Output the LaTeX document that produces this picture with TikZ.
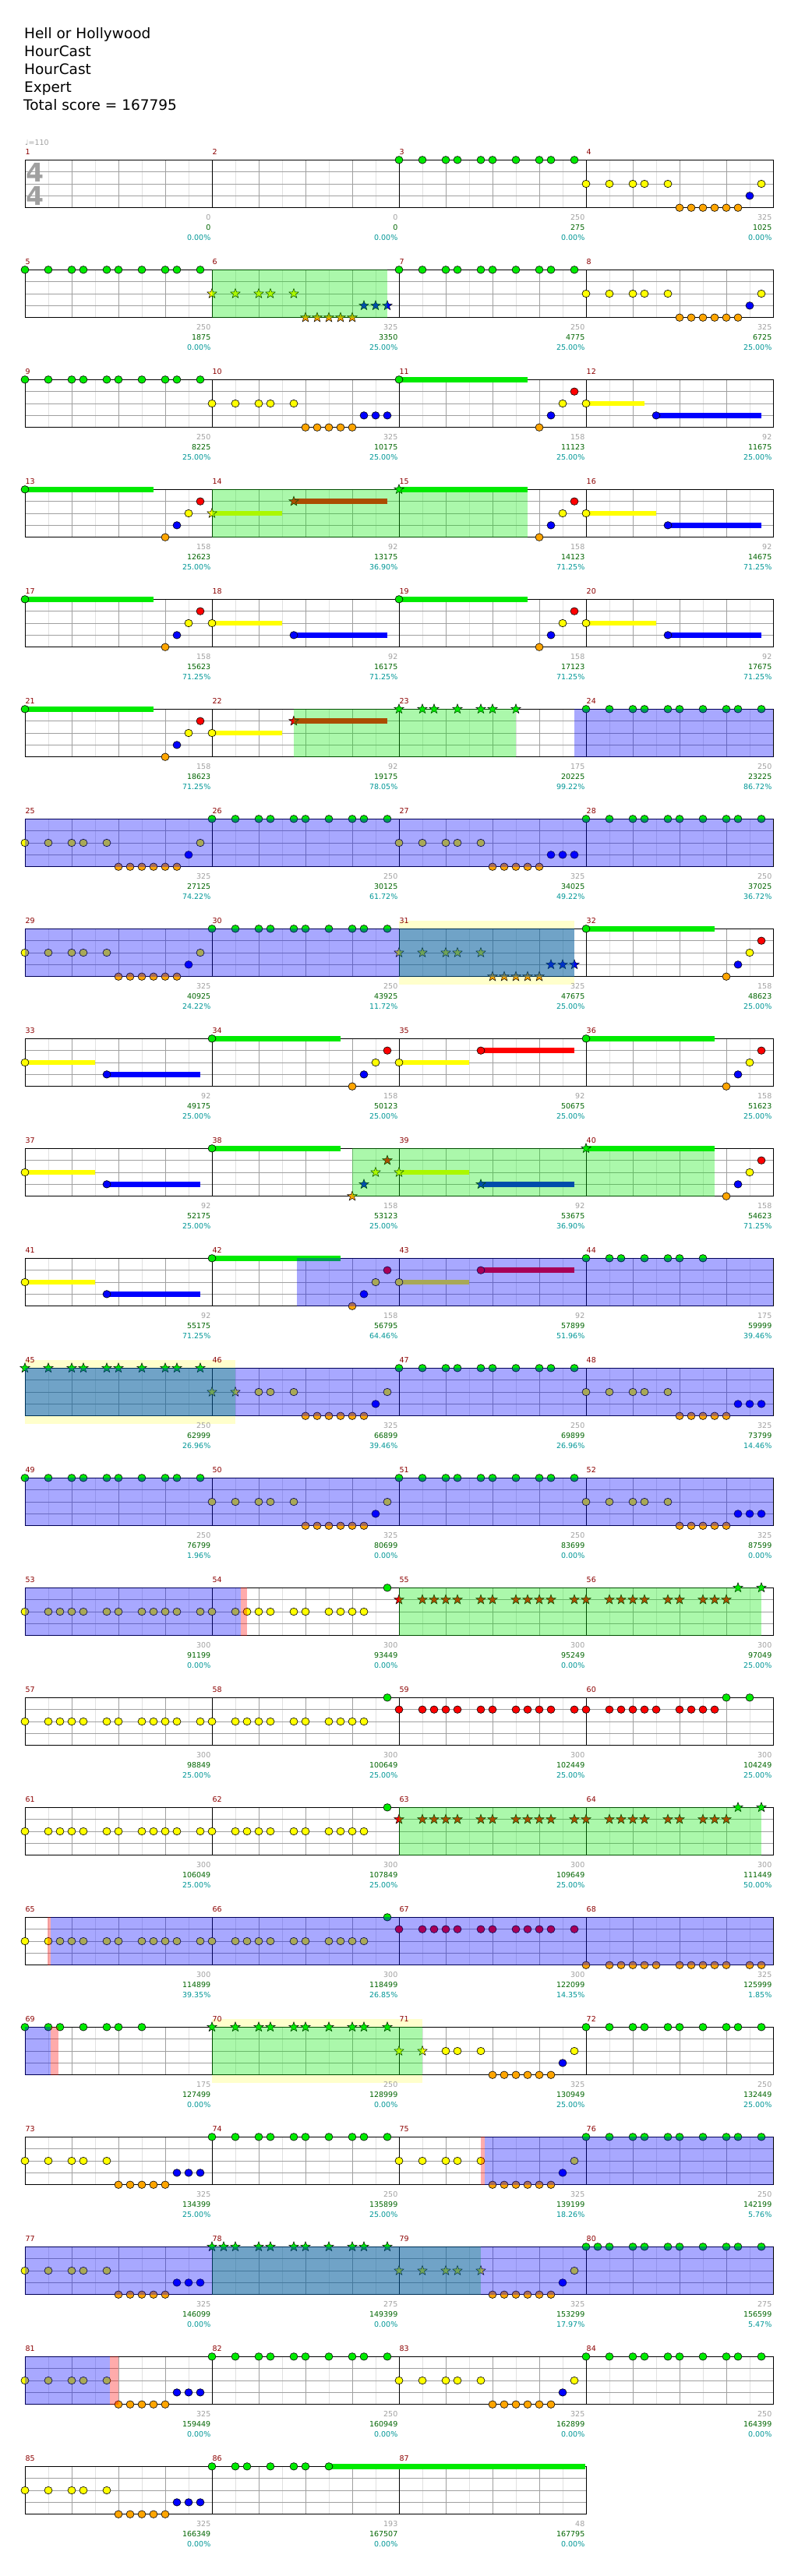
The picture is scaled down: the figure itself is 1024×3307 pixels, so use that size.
\documentclass[tikz,border=0pt]{standalone}
\usepackage{fontspec}
\setmainfont{DejaVu Sans}
\usepackage{tikz}
\usetikzlibrary{shapes.geometric}

\definecolor{lane0}{RGB}{0,235,0}
\definecolor{lane1}{RGB}{255,0,0}
\definecolor{lane2}{RGB}{255,255,0}
\definecolor{lane3}{RGB}{0,0,255}
\definecolor{lane4}{RGB}{255,165,0}
\definecolor{barnum}{RGB}{139,0,0}
\definecolor{gridlt}{RGB}{225,225,225}
\definecolor{griddk}{RGB}{160,160,160}
\definecolor{scoregreen}{RGB}{0,100,0}
\definecolor{pctteal}{RGB}{0,150,150}
\definecolor{bandyellow}{RGB}{255,255,204}

\tikzset{
  nt/.style={ellipse, draw=black, line width=0.6pt, inner sep=0pt, minimum width=10pt, minimum height=9.5pt},
  st/.style={star, star points=5, star point ratio=2.4, draw=black, line width=0.5pt, inner sep=0pt, minimum size=13pt},
  od/.style={fill=lane0, fill opacity=0.33},
  bz/.style={fill=lane3, fill opacity=0.34},
  pk/.style={fill=lane1, fill opacity=0.33},
  lbl/.style={inner sep=0pt, font=\fontsize{9.5}{10}\selectfont},
  ttl/.style={inner sep=0pt, anchor=base west, font=\fontsize{18.5}{20}\selectfont},
}

% notes: measure, lane (0 top .. 4 bottom), 16th positions, style
\newcommand\nts[4]{%
  \pgfmathsetmacro\nx{32+240*mod(#1-1,4)}%
  \pgfmathsetmacro\ny{205.3+141*int((#1-1)/4)+15.35*#2}%
  \edef\ntlist{#3}%
  \foreach \k in \ntlist
    \node[#4, fill=lane#2] (n#1-#2-\k) at (\nx+15*\k,\ny) {};}
\newcommand\sus[4]{%
  \pgfmathsetmacro\nx{32+240*mod(#1-1,4)}%
  \pgfmathsetmacro\ny{205.3+141*int((#1-1)/4)+15.35*#2}%
  \fill[lane#2] (\nx+15*#3,\ny-3.4) rectangle (\nx+15*#4,\ny+3.4);}
\newcommand\reg[4]{%
  \pgfmathsetmacro\nx{32+240*mod(#1-1,4)}%
  \pgfmathsetmacro\ny{205.3+141*int((#1-1)/4)}%
  \fill[#4] (\nx+15*#2,\ny) rectangle (\nx+15*#3,\ny+61.4);}
\newcommand\band[3]{%
  \pgfmathsetmacro\nx{32+240*mod(#1-1,4)}%
  \pgfmathsetmacro\ny{205.3+141*int((#1-1)/4)}%
  \fill[bandyellow] (\nx+15*#2,\ny-10.6) rectangle (\nx+15*#3,\ny+72);}

\newcommand\rol{0,2,3,4,5,7,8,10,11,12,13,15}
\newcommand\rsh{0,2,3,4,5,7,8,10,11,12,13}
\newcommand\grv[2]{\nts{#1}{0}{0,2,4,5,7,8,10,12,13,15}{#2}}
\newcommand\pya[2]{\nts{#1}{2}{0,2,4,5,7}{#2}\nts{#1}{4}{8,...,12}{#2}\nts{#1}{3}{13,14,15}{#2}}
\newcommand\pyb[1]{\nts{#1}{2}{0,2,4,5,7,15}{nt}\nts{#1}{4}{8,...,13}{nt}\nts{#1}{3}{14}{nt}}
\newcommand\flam[2]{\nts{#1}{4}{12}{#2}\nts{#1}{3}{13}{#2}\nts{#1}{2}{14}{#2}\nts{#1}{1}{15}{#2}}
\newcommand\opn[2]{\sus{#1}{0}{0}{11}\nts{#1}{0}{0}{#2}}
\newcommand\ybs[1]{\sus{#1}{2}{0}{6}\nts{#1}{2}{0}{nt}\sus{#1}{3}{7}{15}\nts{#1}{3}{7}{nt}}

\begin{document}
\begin{tikzpicture}[x=1pt, y=-1pt]
  \useasboundingbox (0,0) rectangle (1024,3307);

  \node[ttl] (song) at (31,49.3) {Hell or Hollywood};
  \node[ttl] (artist) at (31,72.3) {HourCast};
  \node[ttl] (charter) at (31,95.3) {HourCast};
  \node[ttl] (level) at (31,118.3) {Expert};
  \node[ttl] (total) at (30,141.3) {Total score = 167795};
  \node[lbl, text=griddk, anchor=base west] (tempo) at (32,186) {♩=110};

  \band{31}{0}{15}
  \band{45}{0}{18}
  \band{70}{0}{18}

  % staff rows
  \foreach \r in {0,...,21} {
    \pgfmathsetmacro\ty{205.3+141*\r}
    \pgfmathtruncatemacro\W{\r<21 ? 960 : 720}
    \fill[white] (32,\ty) rectangle (32+\W,\ty+61.4);
    \foreach \i in {30,90,...,\W}
      \draw[gridlt, line width=0.8pt] (32+\i,\ty) -- ++(0,61.4);
    \foreach \i in {60,120,...,\W}
      \draw[griddk, line width=0.8pt] (32+\i,\ty) -- ++(0,61.4);
    \foreach \j in {1,2,3}
      \draw[griddk, line width=1pt] (32,\ty+15.35*\j) -- ++(\W,0);
    \draw[line width=1.2pt] (32,\ty) -- ++(\W,0) (32,\ty+61.4) -- ++(\W,0);
    \foreach \i in {0,240,...,\W}
      \draw[line width=0.8pt] (32+\i,\ty) -- ++(0,61.4);
  }

  \node[text=griddk, inner sep=0pt, font=\fontsize{33}{33}\selectfont\bfseries] (tsig1) at (44.5,221) {4};
  \node[text=griddk, inner sep=0pt, font=\fontsize{33}{33}\selectfont\bfseries] (tsig2) at (44.5,251) {4};

  \grv{3}{nt} \pyb{4}
  \grv{5}{nt} \pya{6}{st} \grv{7}{nt} \pyb{8}
  \grv{9}{nt} \pya{10}{nt} \opn{11}{nt}\flam{11}{nt}
  \sus{12}{2}{0}{5}\nts{12}{2}{0}{nt}\sus{12}{3}{6}{15}\nts{12}{3}{6}{nt}
  \opn{13}{nt}\flam{13}{nt}
  \sus{14}{2}{0}{6}\nts{14}{2}{0}{st}\sus{14}{1}{7}{15}\nts{14}{1}{7}{st}
  \opn{15}{st}\flam{15}{nt} \ybs{16}
  \opn{17}{nt}\flam{17}{nt} \ybs{18} \opn{19}{nt}\flam{19}{nt} \ybs{20}
  \opn{21}{nt}\flam{21}{nt}
  \sus{22}{2}{0}{6}\nts{22}{2}{0}{nt}\sus{22}{1}{7}{15}\nts{22}{1}{7}{st}
  \nts{23}{0}{0,2,3,5,7,8,10}{st} \grv{24}{nt}
  \pyb{25} \grv{26}{nt} \pya{27}{nt} \grv{28}{nt}
  \pyb{29} \grv{30}{nt} \pya{31}{st} \opn{32}{nt}\flam{32}{nt}
  \ybs{33} \opn{34}{nt}\flam{34}{nt}
  \sus{35}{2}{0}{6}\nts{35}{2}{0}{nt}\sus{35}{1}{7}{15}\nts{35}{1}{7}{nt}
  \opn{36}{nt}\flam{36}{nt}
  \ybs{37} \opn{38}{nt}\flam{38}{st}
  \sus{39}{2}{0}{6}\nts{39}{2}{0}{st}\sus{39}{3}{7}{15}\nts{39}{3}{7}{st}
  \opn{40}{st}\flam{40}{nt}
  \ybs{41} \opn{42}{nt}\flam{42}{nt}
  \sus{43}{2}{0}{6}\nts{43}{2}{0}{nt}\sus{43}{1}{7}{15}\nts{43}{1}{7}{nt}
  \nts{44}{0}{0,2,3,5,7,8,10}{nt}
  \grv{45}{st}
  \nts{46}{2}{0,2}{st}\nts{46}{2}{4,5,7,15}{nt}\nts{46}{4}{8,...,13}{nt}\nts{46}{3}{14}{nt}
  \grv{47}{nt} \pya{48}{nt}
  \grv{49}{nt} \pyb{50} \grv{51}{nt} \pya{52}{nt}
  \nts{53}{2}{\rol}{nt} \nts{54}{2}{\rsh}{nt}\nts{54}{0}{15}{nt}
  \nts{55}{1}{\rol}{st} \nts{56}{1}{0,2,3,4,5,7,8,10,11,12}{st}\nts{56}{0}{13,15}{st}
  \nts{57}{2}{\rol}{nt} \nts{58}{2}{\rsh}{nt}\nts{58}{0}{15}{nt}
  \nts{59}{1}{\rol}{nt} \nts{60}{1}{0,2,3,4,5,6,8,9,10,11}{nt}\nts{60}{0}{12,14}{nt}
  \nts{61}{2}{\rol}{nt} \nts{62}{2}{\rsh}{nt}\nts{62}{0}{15}{nt}
  \nts{63}{1}{\rol}{st} \nts{64}{1}{0,2,3,4,5,7,8,10,11,12}{st}\nts{64}{0}{13,15}{st}
  \nts{65}{2}{\rol}{nt} \nts{66}{2}{\rsh}{nt}\nts{66}{0}{15}{nt}
  \nts{67}{1}{\rol}{nt} \nts{68}{4}{0,2,3,4,5,6,8,9,10,11,12,14,15}{nt}
  \nts{69}{0}{0,2,3,5,7,8,10}{nt} \grv{70}{st}
  \nts{71}{2}{0,2}{st}\nts{71}{2}{4,5,7,15}{nt}\nts{71}{4}{8,...,13}{nt}\nts{71}{3}{14}{nt}
  \grv{72}{nt}
  \pya{73}{nt} \grv{74}{nt} \pyb{75} \grv{76}{nt}
  \pya{77}{nt} \nts{78}{0}{0,1,2,4,5,7,8,10,12,13,15}{st}
  \nts{79}{2}{0,2,4,5,7}{st}\nts{79}{2}{15}{nt}\nts{79}{4}{8,...,13}{nt}\nts{79}{3}{14}{nt}
  \nts{80}{0}{0,1,2,4,5,7,8,10,12,13,15}{nt}
  \pya{81}{nt} \grv{82}{nt} \pyb{83} \grv{84}{nt}
  \pya{85}{nt} \sus{86}{0}{10}{31.9}\nts{86}{0}{0,2,3,5,7,8,10}{nt}

  % overdrive and fill regions
  \reg{6}{0}{15}{od}   \reg{14}{0}{27}{od}  \reg{22}{7}{26}{od}
  \reg{31}{0}{15}{od}  \reg{38}{12}{43}{od} \reg{45}{0}{18}{od}
  \reg{55}{0}{31}{od}  \reg{63}{0}{31}{od}  \reg{70}{0}{18}{od}
  \reg{78}{0}{23}{od}
  \reg{23}{15}{32}{bz} \reg{25}{0}{64}{bz}  \reg{29}{0}{47}{bz}
  \reg{42}{7.25}{48}{bz} \reg{45}{0}{64}{bz} \reg{49}{0}{64}{bz}
  \reg{53}{0}{18.47}{bz} \reg{65}{2.23}{64}{bz} \reg{69}{0}{2.23}{bz}
  \reg{75}{7.33}{32}{bz} \reg{77}{0}{64}{bz} \reg{81}{0}{7.25}{bz}
  \reg{53}{18.47}{19}{pk} \reg{65}{1.95}{2.23}{pk} \reg{69}{2.23}{2.87}{pk}
  \reg{75}{7}{7.33}{pk} \reg{81}{7.25}{8}{pk}

  \foreach \m/\a/\b/\c in {1/0/0/0.00, 2/0/0/0.00, 3/250/275/0.00, 4/325/1025/0.00,
      5/250/1875/0.00, 6/325/3350/25.00, 7/250/4775/25.00, 8/325/6725/25.00,
      9/250/8225/25.00, 10/325/10175/25.00, 11/158/11123/25.00, 12/92/11675/25.00,
      13/158/12623/25.00, 14/92/13175/36.90, 15/158/14123/71.25, 16/92/14675/71.25,
      17/158/15623/71.25, 18/92/16175/71.25, 19/158/17123/71.25, 20/92/17675/71.25,
      21/158/18623/71.25, 22/92/19175/78.05, 23/175/20225/99.22, 24/250/23225/86.72,
      25/325/27125/74.22, 26/250/30125/61.72, 27/325/34025/49.22, 28/250/37025/36.72,
      29/325/40925/24.22, 30/250/43925/11.72, 31/325/47675/25.00, 32/158/48623/25.00,
      33/92/49175/25.00, 34/158/50123/25.00, 35/92/50675/25.00, 36/158/51623/25.00,
      37/92/52175/25.00, 38/158/53123/25.00, 39/92/53675/36.90, 40/158/54623/71.25,
      41/92/55175/71.25, 42/158/56795/64.46, 43/92/57899/51.96, 44/175/59999/39.46,
      45/250/62999/26.96, 46/325/66899/39.46, 47/250/69899/26.96, 48/325/73799/14.46,
      49/250/76799/1.96, 50/325/80699/0.00, 51/250/83699/0.00, 52/325/87599/0.00,
      53/300/91199/0.00, 54/300/93449/0.00, 55/300/95249/0.00, 56/300/97049/25.00,
      57/300/98849/25.00, 58/300/100649/25.00, 59/300/102449/25.00, 60/300/104249/25.00,
      61/300/106049/25.00, 62/300/107849/25.00, 63/300/109649/25.00, 64/300/111449/50.00,
      65/300/114899/39.35, 66/300/118499/26.85, 67/300/122099/14.35, 68/325/125999/1.85,
      69/175/127499/0.00, 70/250/128999/0.00, 71/325/130949/25.00, 72/250/132449/25.00,
      73/325/134399/25.00, 74/250/135899/25.00, 75/325/139199/18.26, 76/250/142199/5.76,
      77/325/146099/0.00, 78/275/149399/0.00, 79/325/153299/17.97, 80/275/156599/5.47,
      81/325/159449/0.00, 82/250/160949/0.00, 83/325/162899/0.00, 84/250/164399/0.00,
      85/325/166349/0.00, 86/193/167507/0.00, 87/48/167795/0.00} {
    \pgfmathsetmacro\lx{32+240*mod(\m-1,4)}
    \pgfmathsetmacro\ly{205.3+141*int((\m-1)/4)}
    \node[lbl, text=barnum, anchor=base west] (num\m) at (\lx+0.5,\ly-7) {\m};
    \node[lbl, text=griddk, anchor=base east] (gr\m) at (\lx+238.5,\ly+77) {\a};
    \node[lbl, text=scoregreen, anchor=base east] (sc\m) at (\lx+238.5,\ly+90.4) {\b};
    \node[lbl, text=pctteal, anchor=base east] (pc\m) at (\lx+238.5,\ly+103.4) {\c\%};
  }
\end{tikzpicture}
\end{document}
